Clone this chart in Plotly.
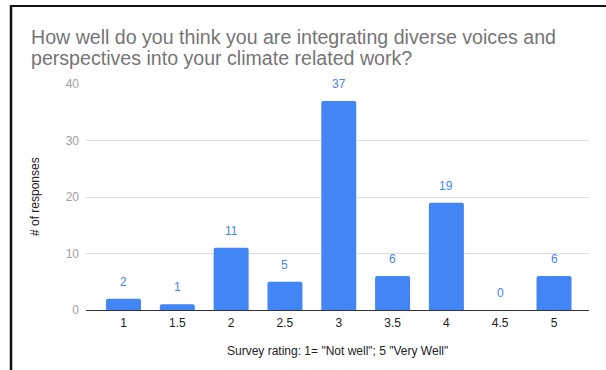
import plotly.graph_objects as go

categories = ["1", "1.5", "2", "2.5", "3", "3.5", "4", "4.5", "5"]
responses = [2, 1, 11, 5, 37, 6, 19, 0, 6]
y_ticks = [0, 10, 20, 30, 40]
title_lines = ["How well do you think you are integrating diverse voices and",
               "perspectives into your climate related work?"]
x_title = 'Survey rating: 1= "Not well"; 5 "Very Well"'
y_title = "# of responses"

FONT = "Arial, 'Liberation Sans', sans-serif"
BLUE = "#4285F4"

W, H = 606, 370
L, R, T, B = 86, 17, 84, 60
pw, ph = W - L - R, H - T - B

def px_x(px):
    return (px - L) / pw

def px_y(py):
    return (H - B - py) / ph

fig = go.Figure()
fig.add_trace(go.Bar(
    x=categories, y=responses,
    marker=dict(color=BLUE, cornerradius=2, line=dict(width=0)),
    hoverinfo="x+y",
))

annotations = []
for i, v in enumerate(responses):
    annotations.append(dict(x=i, y=v, xref="x", yref="y", text=str(v),
                            showarrow=False, yanchor="middle", yshift=17,
                            font=dict(family=FONT, size=12, color=BLUE)))
annotations.append(dict(x=px_x(30), y=px_y(37), xref="paper", yref="paper",
                        text=title_lines[0], showarrow=False, xanchor="left",
                        yanchor="middle", borderpad=0,
                        font=dict(family=FONT, size=19.6, color="#757575")))
annotations.append(dict(x=px_x(30), y=px_y(57.5), xref="paper", yref="paper",
                        text=title_lines[1], showarrow=False, xanchor="left",
                        yanchor="middle", borderpad=0,
                        font=dict(family=FONT, size=19.6, color="#757575")))
annotations.append(dict(x=0.5, y=px_y(351), xref="paper", yref="paper",
                        text=x_title, showarrow=False, xanchor="center",
                        yanchor="middle", font=dict(family=FONT, size=12, color="#222222")))
annotations.append(dict(x=px_x(35), y=0.5, xref="paper", yref="paper",
                        text=y_title, showarrow=False, xanchor="center",
                        yanchor="middle", textangle=-90,
                        font=dict(family=FONT, size=12, color="#222222")))

shapes = [
    dict(type="line", xref="paper", yref="paper", x0=px_x(10), x1=px_x(W + 5),
         y0=px_y(6), y1=px_y(6), line=dict(color="#111111", width=2)),
    dict(type="line", xref="paper", yref="paper", x0=px_x(11), x1=px_x(11),
         y0=px_y(5), y1=px_y(H + 5), line=dict(color="#111111", width=2.5)),
]

fig.update_layout(
    width=W, height=H,
    margin=dict(l=L, r=R, t=T, b=B, pad=0),
    paper_bgcolor="white", plot_bgcolor="white",
    bargap=0.35,
    showlegend=False,
    annotations=annotations,
    shapes=shapes,
    font=dict(family=FONT),
)
fig.update_xaxes(
    type="category", range=[-0.697, 8.65],
    showgrid=False, showline=True, linecolor="#333333", linewidth=1,
    ticks="", ticklabelstandoff=2,
    tickfont=dict(family=FONT, size=12, color="#222222"),
    fixedrange=True,
)
fig.update_yaxes(
    range=[0, 40], tickvals=y_ticks, showgrid=True, gridcolor="#dedede",
    gridwidth=1, zeroline=False, showline=False, ticks="",
    ticklabelstandoff=6,
    tickfont=dict(family=FONT, size=12, color="#a0a0a0"),
    fixedrange=True,
)

fig.write_html("out.html")
